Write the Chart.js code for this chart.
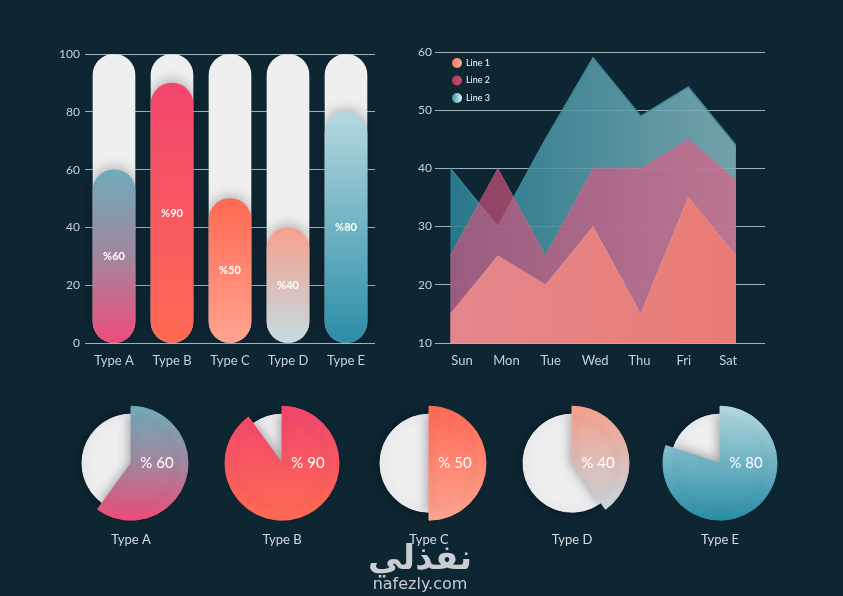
<!DOCTYPE html>
<html>
<head>
<meta charset="utf-8">
<script src="https://cdn.jsdelivr.net/npm/chart.js@4.4.1/dist/chart.umd.min.js"></script>
<style>
  html, body { margin: 0; padding: 0; }
  body { width: 843px; height: 596px; background: #0e2532; position: relative; overflow: hidden; font-family: Lato, sans-serif; }
  .box { position: absolute; }
  #watermark { position: absolute; left: 355px; top: 538px; width: 130px; text-align: center; color: #c7cdd0; font-family: "DejaVu Sans", sans-serif; }
  #watermark .ar { font-size: 34px; font-weight: bold; line-height: 38px; }
  #watermark .en { font-size: 16px; line-height: 16px; }
</style>
</head>
<body>
<div class="box" style="left:40px;top:42px;width:340px;height:335px"><canvas id="barChart"></canvas></div>
<div class="box" style="left:395px;top:40px;width:380px;height:335px"><canvas id="areaChart"></canvas></div>
<div class="box" style="left:61px;top:396px;width:140px;height:162px"><canvas id="pie0"></canvas></div>
<div class="box" style="left:212px;top:396px;width:140px;height:162px"><canvas id="pie1"></canvas></div>
<div class="box" style="left:359px;top:396px;width:140px;height:162px"><canvas id="pie2"></canvas></div>
<div class="box" style="left:502px;top:396px;width:140px;height:162px"><canvas id="pie3"></canvas></div>
<div class="box" style="left:650px;top:396px;width:140px;height:162px"><canvas id="pie4"></canvas></div>
<div id="watermark"><div class="ar">نفذلي</div><div class="en">nafezly.com</div></div>
<script>
// données
const types = ["Type A", "Type B", "Type C", "Type D", "Type E"];
const percents = [60, 90, 50, 40, 80];
const fullValues = [100, 100, 100, 100, 100];
const barTicks = [0, 20, 40, 60, 80, 100];

const days = ["Sun", "Mon", "Tue", "Wed", "Thu", "Fri", "Sat"];
const line1 = [15, 25, 20, 30, 15, 35, 25];
const line2 = [25, 40, 25, 40, 40, 45, 38];
const line3 = [40, 30, 45, 59, 49, 54, 44];
const lineNames = ["Line 1", "Line 2", "Line 3"];
const areaTicks = [10, 20, 30, 40, 50, 60];

// couleurs (haut -> bas)
const typeGradients = [
  ["#6fabb9", "#a3869e", "#ee4c78"],
  ["#f2466e", "#ff6a53"],
  ["#ff6953", "#ffa48f"],
  ["#f6a08d", "#c4dbe2"],
  ["#b5d8df", "#2a8da7"],
];
const areaGradients = [
  ["rgba(232,138,142,0.95)", "rgba(236,122,112,0.95)"],
  ["rgba(200,80,122,0.7)", "rgba(218,102,140,0.72)"],
  ["rgba(40,128,148,0.88)", "rgba(138,184,190,0.88)"],
];
const areaBorders = ["rgba(245,160,150,0.5)", "rgba(215,110,145,0.5)", "#3a8796"];
const legendColors = [["#f07a67", "#ffa78c"], ["#b23e5e", "#c24c6c"], ["#3a97a4", "#e4f2f4"]];
const tickColor = "#c9d1d5";
const gridColor = "#9fb3ba";

function stopsGradient(c, x0, y0, x1, y1, stops) {
  const g = c.createLinearGradient(x0, y0, x1, y1);
  stops.forEach((s, i) => g.addColorStop(i / (stops.length - 1), s));
  return g;
}

// GRAPH 1 : barres arrondies
function barFill(ctx) {
  const stops = typeGradients[ctx.dataIndex] || typeGradients[0];
  const chart = ctx.chart;
  if (!chart.chartArea || ctx.dataIndex === undefined) return stops[0];
  const y = chart.scales.y;
  return stopsGradient(chart.ctx, 0, y.getPixelForValue(percents[ctx.dataIndex]), 0, y.getPixelForValue(0), stops);
}

const barShadow = {
  id: "barShadow",
  beforeDatasetDraw(chart, args) {
    if (args.index !== 0) return;
    const c = chart.ctx;
    c.save();
    c.shadowColor = "rgba(0,0,0,0.25)";
    c.shadowBlur = 12;
    c.shadowOffsetY = -3;
  },
  afterDatasetDraw(chart, args) {
    if (args.index === 0) chart.ctx.restore();
  },
};

const barLabels = {
  id: "barLabels",
  afterDatasetsDraw(chart) {
    const { ctx, scales } = chart;
    ctx.save();
    ctx.fillStyle = "#fff";
    ctx.font = "bold 11px Lato";
    ctx.textAlign = "center";
    ctx.textBaseline = "middle";
    chart.getDatasetMeta(0).data.forEach((bar, i) => {
      ctx.fillText("%" + percents[i], bar.x, scales.y.getPixelForValue(percents[i] / 2));
    });
    ctx.restore();
  },
};

new Chart(document.getElementById("barChart"), {
  type: "bar",
  data: {
    labels: types,
    datasets: [
      { data: percents, backgroundColor: barFill, order: 0 },
      { data: fullValues, backgroundColor: "#efefef", order: 1 },
    ],
  },
  options: {
    responsive: true,
    maintainAspectRatio: false,
    animation: false,
    layout: { padding: { top: 10, right: 5 } },
    datasets: { bar: { grouped: false, barThickness: 42, borderRadius: 21, borderSkipped: false } },
    plugins: { legend: { display: false }, tooltip: { enabled: false } },
    scales: {
      x: {
        grid: { display: false },
        border: { display: false },
        ticks: { color: tickColor, font: { family: "Lato", size: 13 }, padding: 2 },
        afterFit: (s) => { s.height = 34; },
      },
      y: {
        min: 0,
        max: 100,
        afterBuildTicks: (s) => { s.ticks = barTicks.map((v) => ({ value: v })); },
        grid: { color: gridColor, drawTicks: false },
        border: { display: false },
        ticks: { color: tickColor, font: { family: "Lato", size: 12 }, padding: 5 },
        afterFit: (s) => { s.width = 45; },
      },
    },
  },
  plugins: [barShadow, barLabels],
});

// GRAPH 2 : aires superposées
function areaFill(stops) {
  return (ctx) => {
    const area = ctx.chart.chartArea;
    if (!area) return stops[0];
    return stopsGradient(ctx.chart.ctx, area.left, 0, area.right, 0, stops);
  };
}

const areaLegend = {
  id: "areaLegend",
  afterDraw(chart) {
    const { ctx, chartArea } = chart;
    ctx.save();
    ctx.font = "9px Lato";
    ctx.textBaseline = "middle";
    lineNames.forEach((name, i) => {
      const x = chartArea.left + 22;
      const y = chartArea.top + 11 + i * 17.5;
      ctx.fillStyle = stopsGradient(ctx, x - 5, 0, x + 5, 0, legendColors[i]);
      ctx.beginPath();
      ctx.arc(x, y, 5, 0, Math.PI * 2);
      ctx.fill();
      ctx.fillStyle = "#fff";
      ctx.fillText(name, x + 9, y);
    });
    ctx.restore();
  },
};

const series = [line1, line2, line3];
new Chart(document.getElementById("areaChart"), {
  type: "line",
  data: {
    datasets: series.map((vals, k) => ({
      label: lineNames[k],
      data: vals.map((v, i) => ({ x: i, y: v })),
      xAxisID: "xData",
      fill: "start",
      backgroundColor: areaFill(areaGradients[k]),
      borderColor: areaBorders[k],
      borderWidth: k === 2 ? 1.5 : 1,
      pointRadius: 0,
      tension: 0,
    })),
  },
  options: {
    responsive: true,
    maintainAspectRatio: false,
    animation: false,
    layout: { padding: { top: 12, right: 10 } },
    plugins: { legend: { display: false }, tooltip: { enabled: false } },
    scales: {
      xData: {
        type: "linear",
        position: "bottom",
        display: false,
        min: -0.32,
        max: 6.61,
      },
      x: {
        type: "linear",
        position: "bottom",
        min: -0.61,
        max: 6.83,
        afterBuildTicks: (s) => { s.ticks = days.map((d, i) => ({ value: i })); },
        grid: { display: false },
        border: { display: false },
        ticks: { color: tickColor, font: { family: "Lato", size: 13 }, padding: 2, callback: (v) => days[v] },
        afterFit: (s) => { s.height = 32; },
      },
      y: {
        min: 10,
        max: 60,
        afterBuildTicks: (s) => { s.ticks = areaTicks.map((v) => ({ value: v })); },
        grid: { color: gridColor, drawTicks: false },
        border: { display: false },
        ticks: { color: tickColor, font: { family: "Lato", size: 12 }, padding: 3 },
        afterFit: (s) => { s.width = 40; },
      },
    },
  },
  plugins: [areaLegend],
});

// GRAPH 3 : camemberts
const pieShadow = {
  id: "pieShadow",
  beforeDatasetDraw(chart, args) {
    if (args.index !== 1) return;
    const c = chart.ctx;
    c.save();
    c.shadowColor = "rgba(0,0,0,0.35)";
    c.shadowBlur = 12;
  },
  afterDatasetDraw(chart, args) {
    if (args.index === 1) chart.ctx.restore();
  },
};

const pieLabel = {
  id: "pieLabel",
  afterDatasetsDraw(chart, args, opts) {
    const arc = chart.getDatasetMeta(1).data[1];
    if (!arc) return;
    const { ctx } = chart;
    ctx.save();
    ctx.fillStyle = "#fff";
    ctx.font = "15px Lato";
    ctx.textAlign = "center";
    ctx.textBaseline = "middle";
    ctx.fillText(opts.text, arc.x + 26, arc.y);
    ctx.restore();
  },
};

types.forEach((type, i) => {
  const pieRadius = 57;
  const sliceColor = (ctx) => {
    if (ctx.dataIndex !== 1) return ctx.datasetIndex === 0 ? "rgba(0,0,0,0)" : "#efeff1";
    const area = ctx.chart.chartArea;
    if (!area) return typeGradients[i][0];
    const cy = (area.top + area.bottom) / 2;
    return stopsGradient(ctx.chart.ctx, 0, cy - pieRadius, 0, cy + pieRadius, typeGradients[i]);
  };
  const values = [100 - percents[i], percents[i]];
  new Chart(document.getElementById("pie" + i), {
    type: "pie",
    data: {
      labels: ["", type],
      datasets: [
        { data: values, backgroundColor: sliceColor, borderColor: sliceColor, weight: 8 },
        { data: values, backgroundColor: sliceColor, borderColor: sliceColor, weight: 49 },
      ],
    },
    options: {
      responsive: true,
      maintainAspectRatio: false,
      animation: false,
      radius: pieRadius,
      rotation: (percents[i] - 100) * 3.6,
      borderWidth: 1,
      plugins: {
        legend: { display: false },
        tooltip: { enabled: false },
        title: { display: true, position: "bottom", text: type, color: "#d6dcdf", font: { family: "Lato", size: 13, weight: "normal" }, padding: { top: 2, bottom: 10 } },
        pieLabel: { text: "% " + percents[i] },
      },
    },
    plugins: [pieShadow, pieLabel],
  });
});
</script>
</body>
</html>
